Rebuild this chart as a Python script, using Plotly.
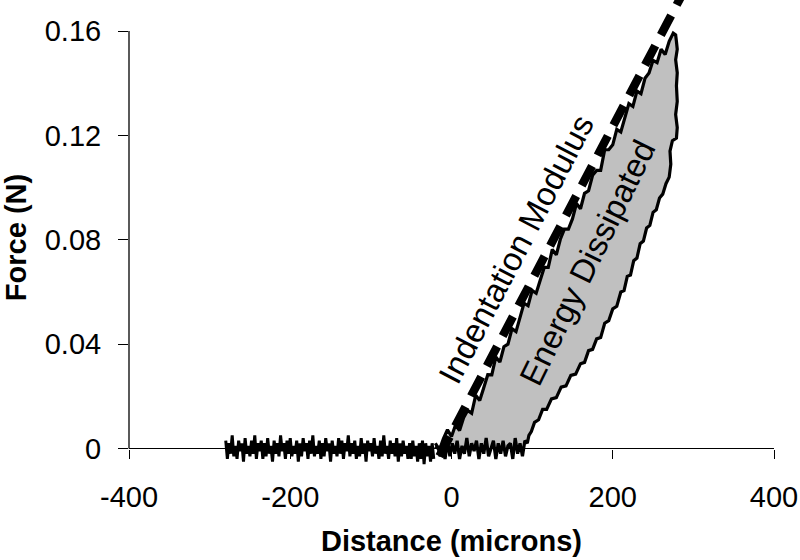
import plotly.graph_objects as go

# ---------------- data ----------------
# Baseline (approach, before contact): distance in microns, force in N
base_x = [-280, -278, -276, -274, -272, -270, -268, -266, -264, -262,
          -260, -258, -256, -254, -252, -250, -248, -246, -244, -242,
          -240, -238, -236, -234, -232, -230, -228, -226, -224, -222,
          -220, -218, -216, -214, -212, -210, -208, -206, -204, -202,
          -200, -198, -196, -194, -192, -190, -188, -186, -184, -182,
          -180, -178, -176, -174, -172, -170, -168, -166, -164, -162,
          -160, -158, -156, -154, -152, -150, -148, -146, -144, -142,
          -140, -138, -136, -134, -132, -130, -128, -126, -124, -122,
          -120, -118, -116, -114, -112, -110, -108, -106, -104, -102,
          -100, -98, -96, -94, -92, -90, -88, -86, -84, -82,
          -80, -78, -76, -74, -72, -70, -68, -66, -64, -62,
          -60, -58, -56, -54, -52, -50, -48, -46, -44, -42,
          -40, -38, -36, -34, -32, -30, -28, -26, -24, -22]
base_y = [0.003, -0.004, 0.002, -0.002, 0.005, -0.003, 0.001, -0.004, 0.003, -0.001,
          0.002, -0.005, 0.004, -0.002, 0.001, -0.003, 0.003, -0.002, 0.005, -0.004,
          0.002, -0.001, 0.003, -0.004, 0.002, -0.003, 0.004, -0.002, 0.001, -0.005,
          0.003, -0.002, 0.002, -0.003, 0.005, -0.001, 0.002, -0.004, 0.003, -0.002,
          0.004, -0.003, 0.001, -0.002, 0.003, -0.005, 0.002, -0.003, 0.004, -0.001,
          0.002, -0.004, 0.003, -0.002, 0.005, -0.003, 0.001, -0.002, 0.003, -0.004,
          0.002, -0.003, 0.004, -0.001, 0.002, -0.005, 0.003, -0.002, 0.001, -0.003,
          0.004, -0.002, 0.003, -0.004, 0.002, -0.001, 0.005, -0.003, 0.002, -0.002,
          0.003, -0.004, 0.001, -0.003, 0.004, -0.002, 0.002, -0.005, 0.003, -0.001,
          0.002, -0.003, 0.004, -0.002, 0.001, -0.004, 0.003, -0.003, 0.005, -0.002,
          0.001, -0.004, 0.003, -0.002, 0.002, -0.003, 0.004, -0.005, 0.002, -0.003,
          0.003, -0.002, 0.001, -0.004, 0.002, -0.004, 0.003, -0.003, 0.001, -0.005,
          0.002, -0.004, 0.003, -0.006, 0.002, -0.003, 0.001, -0.005, 0.002, -0.004]

# Loading branch
load_x = [-20, -15, -10, -5, 0, 5, 10, 15, 20, 25, 30, 35, 40, 45, 50, 55, 60, 65,
          70, 75, 80, 85, 90, 95, 100, 105, 110, 115, 120, 125, 130, 135, 140, 145,
          150, 155, 160, 165, 170, 175, 180, 185, 190, 195, 200, 205, 210, 215, 220,
          225, 230, 235, 240, 245, 250, 255, 260, 265, 270, 275, 278]
load_y = [0.0020, -0.0006, 0.0038, 0.0072, 0.0046, 0.0090, 0.0069, 0.0118, 0.0146,
          0.0135, 0.0204, 0.0184, 0.0233, 0.0283, 0.0282, 0.0351, 0.0331, 0.0390,
          0.0400, 0.0459, 0.0448, 0.0508, 0.0557, 0.0547, 0.0606, 0.0595, 0.0645,
          0.0694, 0.0694, 0.0763, 0.0742, 0.0802, 0.0841, 0.0841, 0.0880, 0.0939,
          0.0919, 0.0978, 0.0988, 0.1047, 0.1066, 0.1066, 0.1145, 0.1145, 0.1164,
          0.1223, 0.1213, 0.1272, 0.1322, 0.1311, 0.1370, 0.1360, 0.1419, 0.1439,
          0.1488, 0.1479, 0.1530, 0.1510, 0.1561, 0.1592, 0.1585]

# Unloading branch
unload_x = [279, 280, 278, 280, 279, 280, 278, 280, 279, 274, 271, 272, 270,
            266, 262, 258, 254, 250, 246, 242, 238, 234, 230, 226, 222, 218, 214,
            210, 205, 200, 195, 190, 185, 180, 175, 170, 165, 160, 154, 148, 142,
            136, 130, 124, 118, 113, 108, 103, 99, 96, 94]
unload_y = [0.1560, 0.153, 0.149, 0.144, 0.139, 0.133, 0.128, 0.123, 0.119, 0.118,
            0.114, 0.109, 0.104,
            0.1015, 0.0975, 0.0960, 0.0915, 0.0905, 0.0855, 0.0845, 0.0795, 0.0785,
            0.0730, 0.0720, 0.0665, 0.0660, 0.0605, 0.0600, 0.0545, 0.0535, 0.0490,
            0.0480, 0.0425, 0.0420, 0.0380, 0.0375, 0.0330, 0.0325, 0.0285, 0.0280,
            0.0240, 0.0235, 0.0195, 0.0190, 0.0150, 0.0150, 0.0110, 0.0100, 0.0065,
            0.0050, 0.0020]

# Return along the baseline after unloading
ret_x = [91, 88, 85, 82, 79, 76, 73, 70, 67, 64, 61, 58, 55, 52, 49, 46, 43, 40, 37,
         34, 31, 28, 25, 22, 19, 16, 13, 10, 7, 4, 1, -2, -5, -8, -11, -14, -17, -20]
ret_y = [0.003, -0.003, 0.002, -0.002, 0.004, -0.004, 0.002, 0.001, -0.003, 0.003,
         -0.002, 0.002, -0.004, 0.003, 0.000, -0.003, 0.004, -0.002, 0.002, -0.004,
         0.003, -0.001, 0.002, -0.003, 0.004, -0.002, 0.001, -0.004, 0.003, -0.002,
         0.002, -0.003, 0.003, -0.004, 0.002, -0.003, 0.001, 0.000]

# Indentation-modulus tangent line (two end points)
mod_x = [-15, 290]
mod_y = [-0.003, 0.1763]

x_ticks = [-400, -200, 0, 200, 400]
x_tick_text = ["-400", "-200", "0", "200", "400"]
y_ticks = [0, 0.04, 0.08, 0.12, 0.16]
y_tick_text = ["0", "0.04", "0.08", "0.12", "0.16"]

# ---------------- figure ----------------
FONT = "Liberation Sans, Arial, sans-serif"
Y_LO, Y_HI = -0.01016, 0.1719

loop_x = load_x + unload_x + ret_x
loop_y = load_y + unload_y + ret_y

fig = go.Figure()
fig.add_trace(go.Scatter(x=loop_x, y=loop_y, mode="lines", fill="toself",
                         fillcolor="#c0c0c0",
                         line=dict(color="black", width=3.2), hoverinfo="skip"))
fig.add_trace(go.Scatter(x=base_x, y=base_y, mode="lines",
                         line=dict(color="black", width=3), hoverinfo="skip"))
fig.add_trace(go.Scatter(x=mod_x, y=mod_y, mode="lines",
                         line=dict(color="black", width=8.5, dash="22px,12px"),
                         hoverinfo="skip"))

fig.add_annotation(x=80, y=0.0762, text="Indentation Modulus", showarrow=False,
                   textangle=-62.5, font=dict(family=FONT, size=33, color="black"))
fig.add_annotation(x=169, y=0.0711, text="Energy Dissipated", showarrow=False,
                   textangle=-64, font=dict(family=FONT, size=33, color="black"))

# y axis line only from 0 to 0.16
fig.add_shape(type="line", xref="paper", yref="y", x0=0, x1=0, y0=0, y1=0.16,
              line=dict(color="black", width=1.3))

x_pos = (0 - Y_LO) / (Y_HI - Y_LO)

fig.update_layout(
    width=800, height=560,
    margin=dict(l=129, r=26, t=0, b=85),
    plot_bgcolor="white", paper_bgcolor="white",
    showlegend=False,
    font=dict(family=FONT, color="black"),
    xaxis=dict(range=[-400, 400], tickvals=x_ticks, ticktext=x_tick_text,
               ticks="outside", ticklen=9,
               tickwidth=1.3, tickcolor="black", showline=True, linecolor="black",
               linewidth=1.3, showgrid=False, zeroline=False,
               anchor="free", position=x_pos,
               tickfont=dict(family=FONT, size=29, color="black"),
               ticklabelstandoff=14,
               title=dict(text="<b>Distance (microns)</b>", standoff=18,
                          font=dict(family=FONT, size=29, color="black")),
               automargin=False),
    yaxis=dict(range=[Y_LO, Y_HI], tickvals=y_ticks, ticktext=y_tick_text,
               ticks="outside", ticklen=10, tickwidth=1.3, tickcolor="black",
               showline=False, showgrid=False, zeroline=False,
               tickfont=dict(family=FONT, size=29, color="black"),
               ticklabelstandoff=11,
               title=dict(text="<b>Force (N)</b>", standoff=14,
                          font=dict(family=FONT, size=29, color="black")),
               automargin=False),
)

fig.write_html("out.html", config={"displayModeBar": False},
               post_script="document.body.style.margin='0';")
